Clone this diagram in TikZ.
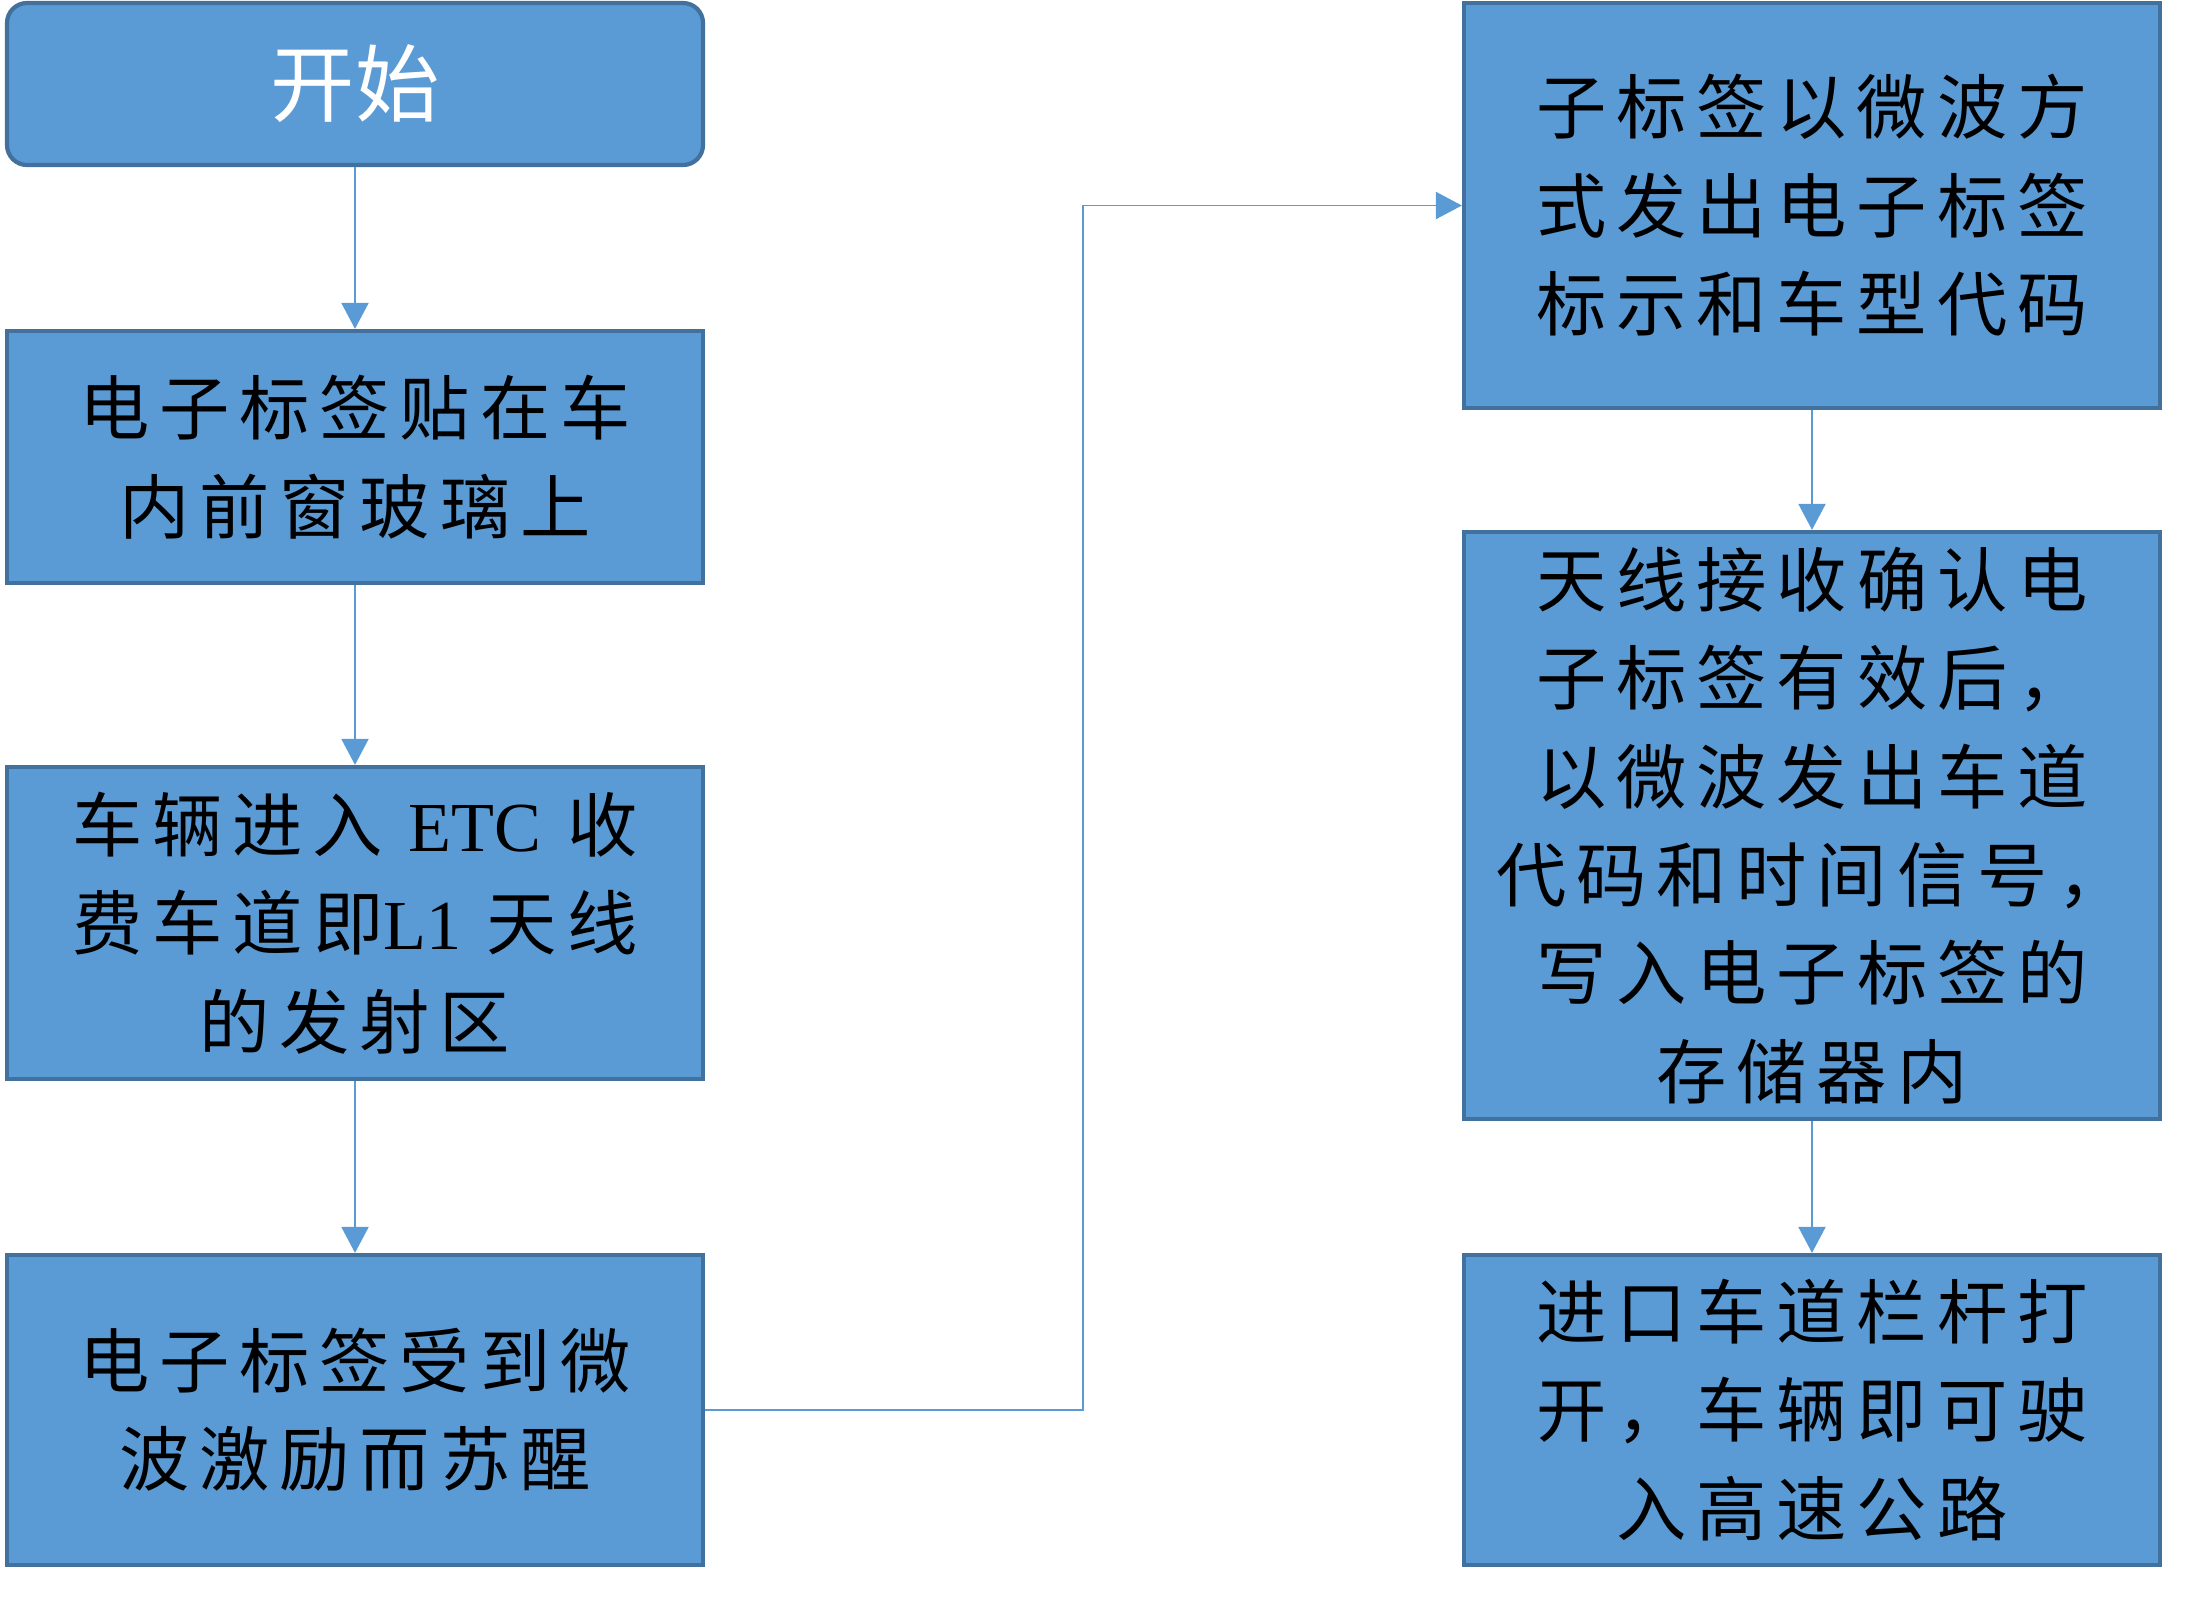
\documentclass[tikz,border=0pt]{standalone}
\usepackage{fontspec}
\setmainfont{Liberation Serif}
\newfontfamily\cjk[LetterSpace=14]{Noto Sans CJK SC}
\newfontfamily\cjkplain{Noto Sans CJK SC}
\usetikzlibrary{positioning, arrows.meta, calc}
\definecolor{boxblue}{HTML}{5B9BD5}
\definecolor{boxedge}{HTML}{41719C}

\begin{document}
\begin{tikzpicture}[
    every node/.style={font=\fontsize{20}{28}\selectfont\cjk},
    stepbox/.style={draw=boxedge, line width=1.2pt, fill=boxblue, minimum width=6.96cm,
      inner sep=0pt, align=center, text=black},
    startbox/.style={stepbox, rounded corners=0.2cm, text=white,
      font=\fontsize{24}{28}\selectfont\cjkplain},
    flow/.style={draw=boxblue, line width=0.55pt, -{Triangle[length=0.26cm, width=0.27cm]}},
  ]
  \useasboundingbox (0,0) rectangle (21.91,-16.10);

  % left column
  \node[startbox, minimum height=1.62cm] (start) at (3.55,-0.84) {开始};
  \node[stepbox, minimum height=2.52cm] (paste) at (3.55,-4.57)
    {电子标签贴在车\\内前窗玻璃上};
  \node[stepbox, minimum height=3.12cm] (enter) at (3.55,-9.23)
    {车辆进入 {\rmfamily ETC} 收\\费车道即{\rmfamily L1} 天线\\的发射区};
  \node[stepbox, minimum height=3.10cm] (wake) at (3.55,-14.10)
    {电子标签受到微\\波激励而苏醒};

  % right column
  \node[stepbox, minimum height=4.05cm] (send) at (18.12,-2.055)
    {子标签以微波方\\式发出电子标签\\标示和车型代码};
  \node[stepbox, minimum height=5.87cm] (write) at (18.12,-8.255)
    {天线接收确认电\\子标签有效后，\\以微波发出车道\\代码和时间信号，\\写入电子标签的\\存储器内};
  \node[stepbox, minimum height=3.10cm] (open) at (18.12,-14.10)
    {进口车道栏杆打\\开，车辆即可驶\\入高速公路};

  \coordinate (turn) at (10.83,-14.10);

  \draw[flow] (start) -- (paste);
  \draw[flow] (paste) -- (enter);
  \draw[flow] (enter) -- (wake);
  \draw[flow] (wake.east) -- (turn) |- (send.west);
  \draw[flow] (send) -- (write);
  \draw[flow] (write) -- (open);
\end{tikzpicture}
\end{document}
